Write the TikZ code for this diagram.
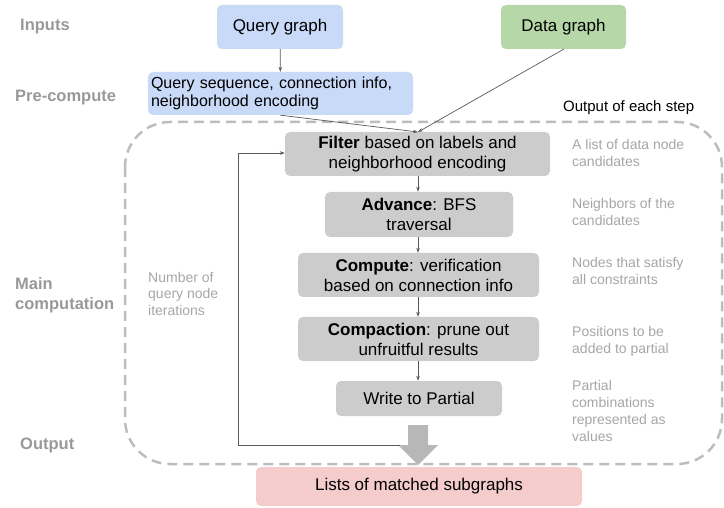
\documentclass[tikz,border=0pt]{standalone}
\usepackage{fontspec}
\setmainfont{Liberation Sans}
\usetikzlibrary{arrows.meta}
\definecolor{qblue}{HTML}{C9DAF8}
\definecolor{dgreen}{HTML}{B6D7A8}
\definecolor{stepgray}{HTML}{CCCCCC}
\definecolor{outpink}{HTML}{F4CCCC}
\definecolor{labgray}{HTML}{999999}
\definecolor{notegray}{HTML}{A6A6A6}
\definecolor{linegray}{HTML}{595959}
\definecolor{dashgray}{HTML}{BDBDBD}
\definecolor{bigarrow}{HTML}{B7B7B7}
\tikzset{
  box/.style={rounded corners=5pt, inner sep=0pt, align=center, font=\fontsize{17}{20}\selectfont},
  stepbox/.style={box, fill=stepgray},
  conn/.style={draw=linegray, line width=0.7pt, -{Stealth[length=5pt,width=3.5pt]}},
  sidelab/.style={anchor=west, text=labgray, font=\bfseries\fontsize{16.5}{20}\selectfont, align=left, inner sep=0pt},
  note/.style={anchor=west, text=notegray, font=\fontsize{14}{17}\selectfont, align=left, inner sep=0pt},
}
\begin{document}
\begin{tikzpicture}[x=1pt,y=-1pt]
\useasboundingbox (0,0) rectangle (724,508);
% dashed region
\draw[dashgray, line width=2.5pt, dash pattern=on 10pt off 6pt, rounded corners=45pt] (125,122) rectangle (722,464);
% side labels
\node[sidelab] (lin) at (20,27) {Inputs};
\node[sidelab] (lpre) at (15,98) {Pre-compute};
\node[sidelab] (lmain) at (15,295) {Main\\computation};
\node[sidelab] (lout) at (20,445) {Output};
% boxes
\node[box, fill=qblue, minimum width=126pt, minimum height=44pt] (qg) at (280,27) {Query graph};
\node[box, fill=dgreen, minimum width=125pt, minimum height=44pt] (dg) at (563.5,27) {Data graph};
\node[box, fill=qblue, text width=259pt, inner xsep=3pt, minimum height=43pt, align=left, font=\fontsize{16}{18}\selectfont] (pre) at (280.5,93.5) {Query sequence, connection info,\\neighborhood encoding};
\node[stepbox, minimum width=265pt, minimum height=44pt] (filt) at (417.5,154) {\textbf{Filter} based on labels and\\neighborhood encoding};
\node[stepbox, minimum width=188pt, minimum height=45pt] (adv) at (419,214.5) {\textbf{Advance}: BFS\\traversal};
\node[stepbox, minimum width=241pt, minimum height=44pt] (comp) at (418.5,275) {\textbf{Compute}: verification\\based on connection info};
\node[stepbox, minimum width=241pt, minimum height=44pt] (cpt) at (418.5,339) {\textbf{Compaction}: prune out\\unfruitful results};
\node[stepbox, minimum width=166pt, minimum height=35pt] (wr) at (419,398.5) {Write to Partial};
\node[box, fill=outpink, minimum width=326pt, minimum height=39pt] (res) at (419,486.5) {Lists of matched subgraphs};
% notes
\node[anchor=west, inner sep=0pt, font=\fontsize{15}{18}\selectfont] (oes) at (563,108) {Output of each step};
\node[note] (n1) at (572,152.5) {A list of data node\\candidates};
\node[note] (n2) at (572,212) {Neighbors of the\\candidates};
\node[note] (n3) at (572,271) {Nodes that satisfy\\all constraints};
\node[note] (n4) at (572,341.5) {Positions to be\\added to partial};
\node[note] (n5) at (572,411) {Partial\\combinations\\represented as\\values};
\node[note, font=\fontsize{14}{16.5}\selectfont] (nq) at (148,293.5) {Number of\\query node\\iterations};
% connectors
\coordinate (fin) at (418,132);
\draw[conn] (qg) -- (pre);
\draw[conn] (pre.south) -- (fin);
\draw[conn] (564,49) -- (fin);
\draw[conn] (filt.south -| 418,0) -- (adv.north -| 418,0);
\draw[conn] (adv.south -| 418,0) -- (comp.north -| 418,0);
\draw[conn] (comp.south -| 418,0) -- (cpt.north -| 418,0);
\draw[conn] (cpt.south -| 418,0) -- (wr.north -| 418,0);
% big arrow
\fill[bigarrow] (408,425) -- (428,425) -- (428,445) -- (438,445) -- (418,465) -- (398,445) -- (408,445) -- cycle;
\coordinate (loopstart) at (400,445);
\draw[conn] (loopstart) -- (238,445) -- (238,153) -- (filt.west |- 0,153);
\end{tikzpicture}
\end{document}
